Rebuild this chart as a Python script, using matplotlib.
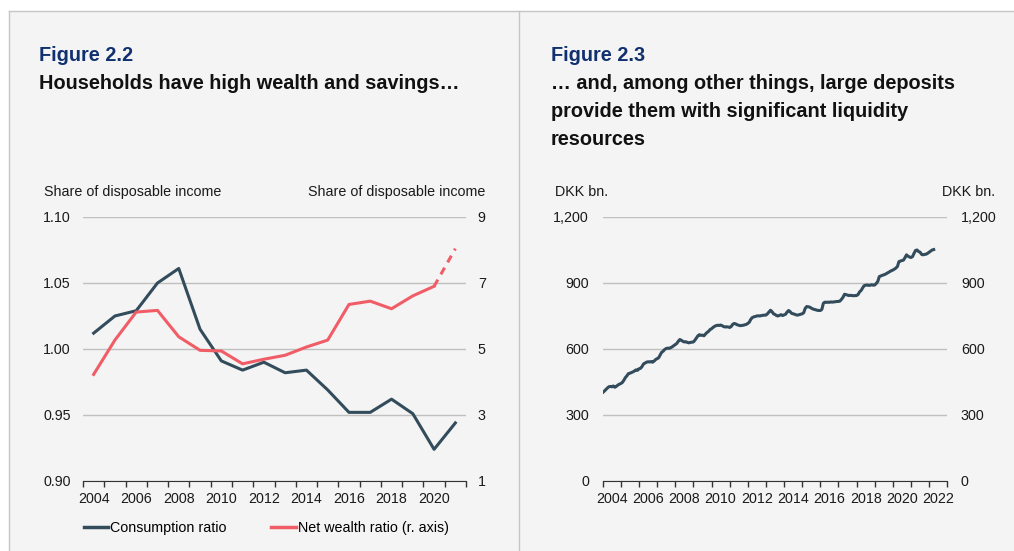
import numpy as np
import matplotlib
matplotlib.use('Agg')
import matplotlib.pyplot as plt
from matplotlib.patches import Rectangle
from matplotlib.lines import Line2D
from matplotlib.ticker import FuncFormatter

plt.rcParams['font.family'] = ['Liberation Sans', 'DejaVu Sans']

W, H = 1014, 551
BG = '#f4f4f4'
DARK = '#334c5c'
RED = '#f05d67'
NAVY = '#10306e'
GRID = '#c0c0c0'
AXIS = '#333333'
TXT = '#1a1a1a'
FS = 10.3

# Figure 2.2 - yearly ratios
years = list(range(2004, 2022))
consumption_ratio = [1.012, 1.025, 1.029, 1.050, 1.061, 1.015, 0.991, 0.984, 0.990,
                     0.982, 0.984, 0.969, 0.952, 0.952, 0.962, 0.951, 0.924, 0.944]
net_wealth_ratio = [4.23, 5.27, 6.12, 6.17, 5.37, 4.96, 4.94, 4.55, 4.69,
                    4.81, 5.06, 5.27, 6.35, 6.45, 6.22, 6.61, 6.90, 8.04]
left_ticks = [0.90, 0.95, 1.00, 1.05, 1.10]
right_ticks = [1, 3, 5, 7, 9]

# Figure 2.3 - household deposits, monthly from Jan 2004 (DKK bn.)
deposit_start = 2004
deposits = [
    402, 408, 415, 422, 428, 430, 428, 432, 426, 430, 436, 440,      # 2004
    443, 448, 458, 470, 478, 488, 490, 493, 496, 500, 505, 503,      # 2005
    510, 512, 520, 532, 536, 540, 542, 541, 543, 540, 545, 552,      # 2006
    556, 560, 572, 585, 590, 598, 602, 604, 603, 606, 610, 615,      # 2007
    620, 625, 635, 643, 640, 635, 632, 633, 630, 628, 630, 631,      # 2008
    632, 640, 650, 660, 665, 662, 663, 660, 668, 675, 680, 688,      # 2009
    692, 698, 703, 706, 708, 707, 709, 706, 702, 700, 701, 700,      # 2010
    698, 702, 712, 716, 714, 710, 708, 706, 707, 708, 710, 712,      # 2011
    716, 722, 735, 743, 746, 748, 750, 751, 750, 752, 753, 754,      # 2012
    754, 760, 768, 776, 770, 760, 757, 752, 750, 753, 756, 752,      # 2013
    755, 758, 768, 775, 770, 762, 760, 758, 755, 754, 756, 758,      # 2014
    760, 765, 785, 793, 792, 790, 786, 782, 780, 778, 776, 775,      # 2015
    775, 780, 808, 813, 812, 813, 812, 814, 813, 814, 815, 816,      # 2016
    816, 818, 826, 835, 849, 847, 845, 843, 844, 843, 842, 843,      # 2017
    843, 848, 860, 866, 878, 888, 890, 891, 889, 890, 892, 890,      # 2018
    891, 898, 907, 929, 932, 935, 937, 940, 944, 948, 952, 956,      # 2019
    959, 963, 968, 975, 997, 1000, 1002, 1004, 1015, 1028, 1022, 1018,  # 2020
    1016, 1020, 1035, 1048, 1050, 1043, 1040, 1030, 1028, 1030, 1031, 1035,  # 2021
    1040, 1045, 1050, 1052,                                          # 2022
]
deposit_ticks = [0, 300, 600, 900, 1200]


def fx(x):
    return x / W


def fy(y):
    return 1 - y / H


fig = plt.figure(figsize=(W / 100, H / 100), dpi=100, facecolor='white')

# panel backgrounds and frame lines
fig.add_artist(Rectangle((fx(9), 0), fx(519 - 9), fy(11), transform=fig.transFigure,
                         facecolor=BG, edgecolor='none', zorder=-10))
fig.add_artist(Rectangle((fx(519), 0), fx(W - 519), fy(11), transform=fig.transFigure,
                         facecolor=BG, edgecolor='none', zorder=-10))
for xs, ys in [([9, W], [11, 11]), ([9, 9], [11, H]), ([519, 519], [11, H])]:
    fig.add_artist(Line2D([fx(v) for v in xs], [fy(v) for v in ys],
                          transform=fig.transFigure, color='#c6c6c6', lw=1, zorder=-5))

# titles
fig.text(fx(39), fy(61), 'Figure 2.2', fontsize=14.3, fontweight='bold', color=NAVY, va='baseline')
fig.text(fx(39), fy(89), 'Households have high wealth and savings…', fontsize=14.3,
         fontweight='bold', color='#111111', va='baseline')
fig.text(fx(551), fy(61), 'Figure 2.3', fontsize=14.3, fontweight='bold', color=NAVY, va='baseline')
for i, line in enumerate(['… and, among other things, large deposits',
                          'provide them with significant liquidity',
                          'resources']):
    fig.text(fx(551), fy(89 + 28 * i), line, fontsize=14.3, fontweight='bold',
             color='#111111', va='baseline')

# axis unit labels
fig.text(fx(44), fy(196), 'Share of disposable income', fontsize=FS, color=TXT, va='baseline')
fig.text(fx(485), fy(196), 'Share of disposable income', fontsize=FS, color=TXT, va='baseline', ha='right')
fig.text(fx(555), fy(196), 'DKK bn.', fontsize=FS, color=TXT, va='baseline')
fig.text(fx(995), fy(196), 'DKK bn.', fontsize=FS, color=TXT, va='baseline', ha='right')

# ---- left chart ----
ax1 = fig.add_axes([fx(83), fy(481), fx(466 - 83), (481 - 217) / H])
ax1.set_facecolor('none')
ax1.set_xlim(2003.5, 2021.5)
ax1.set_ylim(0.90, 1.10)
ax1.set_yticks(left_ticks)
ax1.yaxis.set_major_formatter(FuncFormatter(lambda v, p: f'{v:.2f}'))
ax1.yaxis.grid(True, color=GRID, lw=1)
ax1.set_axisbelow(True)
ax1.set_xticks(np.arange(2003.5, 2022, 1))
ax1.set_xticklabels([])
ax1.set_xticks(range(2004, 2021, 2), minor=True)
ax1.set_xticklabels([str(y) for y in range(2004, 2021, 2)], minor=True)
ax1.tick_params(axis='x', which='major', length=4, color=AXIS, width=1)
ax1.tick_params(axis='x', which='minor', length=0, pad=8, labelsize=FS, labelcolor=TXT)
ax1.tick_params(axis='y', length=0, pad=9, labelsize=FS, labelcolor=TXT)
for s in ['left', 'right', 'top']:
    ax1.spines[s].set_visible(False)
ax1.spines['bottom'].set_color(AXIS)
ax1.plot(years, consumption_ratio, color=DARK, lw=2.2, zorder=3)

ax2 = ax1.twinx()
ax2.set_ylim(1, 9)
ax2.set_yticks(right_ticks)
ax2.tick_params(axis='y', length=0, pad=8.5, labelsize=FS, labelcolor=TXT)
for s in ax2.spines.values():
    s.set_visible(False)
ax2.plot(years[:-1], net_wealth_ratio[:-1], color=RED, lw=2.2)
ax2.plot(years[-2:], net_wealth_ratio[-2:], color=RED, lw=2.2, dashes=(2.5, 2))

handles = [Line2D([], [], color=DARK, lw=2.5), Line2D([], [], color=RED, lw=2.5)]
fig.legend(handles, ['Consumption ratio', 'Net wealth ratio (r. axis)'],
           loc='center left', bbox_to_anchor=(fx(84), fy(528)), ncol=2, frameon=False,
           fontsize=FS, handlelength=1.7, handletextpad=0.15, columnspacing=3.1,
           borderpad=0, borderaxespad=0)

# ---- right chart ----
ax3 = fig.add_axes([fx(602.7), fy(481), fx(947.3 - 602.7), (481 - 217) / H])
ax3.set_facecolor('none')
x_dep = deposit_start + np.arange(len(deposits)) / 12
ax3.plot(x_dep, deposits, color=DARK, lw=2.2)
ax3.set_xlim(2004, 2023)
ax3.set_ylim(0, 1200)
ax3.set_yticks(deposit_ticks)
ax3.yaxis.set_major_formatter(FuncFormatter(lambda v, p: f'{v:,.0f}'))
ax3.yaxis.grid(True, color=GRID, lw=1)
ax3.set_axisbelow(True)
ax3.tick_params(axis='y', length=0, pad=9.8, labelsize=FS, labelcolor=TXT,
                labelleft=True, labelright=True)
ax3.set_xticks(range(2004, 2024))
ax3.set_xticklabels([])
ax3.set_xticks(np.arange(2004.5, 2023, 2), minor=True)
ax3.set_xticklabels([str(y) for y in range(2004, 2023, 2)], minor=True)
ax3.tick_params(axis='x', which='major', length=4, color=AXIS, width=1)
ax3.tick_params(axis='x', which='minor', length=0, pad=8, labelsize=FS, labelcolor=TXT)
for s in ['left', 'right', 'top']:
    ax3.spines[s].set_visible(False)
ax3.spines['bottom'].set_color(AXIS)

fig.savefig('out.png', dpi=100, facecolor='white')
